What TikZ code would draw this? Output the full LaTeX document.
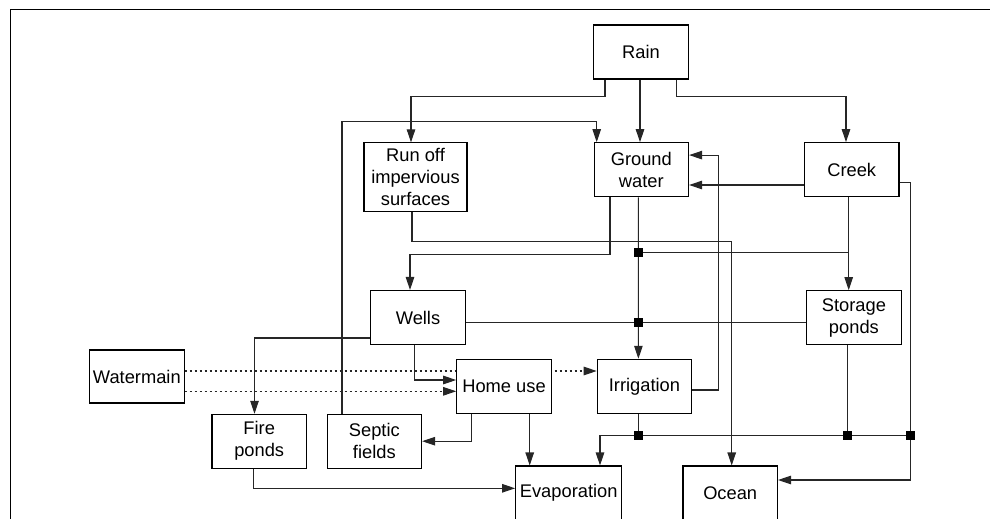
\documentclass[tikz,border=0pt]{standalone}
\usepackage{fontspec}
\setmainfont{Liberation Sans}
\usetikzlibrary{arrows.meta,backgrounds}
\begin{document}
\begin{tikzpicture}[x=1pt,y=-1pt,
  box/.style={draw=black,fill=white,line width=1.1pt,minimum width=94.5pt,minimum height=54pt,
    inner sep=0pt,align=center,font=\fontsize{18.3}{22}\selectfont},
  jn/.style={rectangle,fill=black,minimum size=8.5pt,inner sep=0pt},
  conn/.style={line width=1.1pt,draw=black!85},
  arr/.style={conn,-{Triangle[length=13pt,width=8.5pt]}},
  dotarr/.style={arr,dash pattern=on 2.5pt off 2.5pt}]
\useasboundingbox (0,0) rectangle (990,519);
\clip (0,0) rectangle (990,519);
% frame
\draw[line width=1.5pt] (10.5,519) -- (10.5,9.3) -- (990,9.3);
% boxes
\node[box] (rain) at (641,52) {Rain};
\node[box] (gw) at (641.3,169.7) {Ground\\water};
\node[box,minimum width=103pt,minimum height=69pt] (runoff) at (415.5,177.4) {Run off\\impervious\\surfaces};
\node[box] (creek) at (851.7,169.7) {Creek};
\node[box] (wells) at (418,317.5) {Wells};
\node[box] (storage) at (853.9,317.7) {Storage\\ponds};
\node[box,minimum height=53pt] (watermain) at (136.8,376.5) {Watermain};
\node[box] (homeuse) at (504,386.3) {Home use};
\node[box] (irrig) at (644.5,386.3) {Irrigation};
\node[box,minimum height=53.7pt] (fire) at (259.2,441.2) {Fire\\ponds};
\node[box,minimum height=53.7pt] (septic) at (374.3,441.2) {Septic\\fields};
\node[box,minimum width=106pt] (evap) at (568.7,493) {Evaporation};
\node[box] (ocean) at (730.2,493) {Ocean};
% junctions
\node[jn] (j1) at (638.4,252.7) {};
\node[jn] (j2) at (638.4,322.5) {};
\node[jn] (j3) at (638.4,435.7) {};
\node[jn] (j4) at (847.7,435.7) {};
\node[jn] (j5) at (910.3,435.7) {};
% helper coordinates
\coordinate (wmA) at ([yshift=5.5pt]watermain.east);
\coordinate (wmB) at ([yshift=-14.8pt]watermain.east);
\coordinate (hu2) at ([xshift=25.7pt]homeuse.south);
\coordinate (cb) at ([xshift=-3pt]creek.south |- j1);
\begin{scope}[on background layer]
\draw[arr] ([xshift=-36pt]rain.south) -- ++(0,16.7) -| ([xshift=-4.5pt]runoff.north);
\draw[arr] ([xshift=-1pt]rain.south) -- ([xshift=-1.3pt]gw.north);
\draw[arr] ([xshift=35.7pt]rain.south) -- ++(0,16.7) -| ([xshift=-5.7pt]creek.north);
\draw[arr] ([xshift=-32.3pt]septic.north) -- ++(0,-292.3) -| ([xshift=-44.6pt]gw.north);
\draw[arr] ([yshift=-3.7pt]irrig.east) -- ++(26.3,0) |- ([yshift=14.6pt]gw.east);
\draw[arr] ([yshift=-15.3pt]creek.west) -- ([yshift=-15.3pt]gw.east);
\draw[arr] ([xshift=-3.5pt]runoff.south) -- ++(0,28.8) -| ([xshift=1.5pt]ocean.north);
\draw[arr] ([xshift=-31.3pt]gw.south) -- ++(0,57.6) -| ([xshift=-8pt]wells.north);
\draw[arr] ([xshift=-2.9pt]gw.south) -- ([xshift=-6.1pt]irrig.north);
\draw[arr] ([xshift=-3pt]creek.south) -- ([xshift=-5.2pt]storage.north);
\draw[conn] (cb) -- (j1.center);
\draw[conn] (wells.east |- j2) -- (storage.west |- j2);
\draw[arr] ([yshift=-20.5pt]wells.west) -| ([xshift=-4.7pt]fire.north);
\draw[arr] ([xshift=-3.7pt]wells.south) |- ([yshift=6.3pt]homeuse.west);
\draw[dotarr] (wmA) -- (wmA -| irrig.west);
\draw[dotarr] (wmB) -- (wmB -| homeuse.west);
\draw[arr] ([xshift=-32.7pt]homeuse.south) |- (septic.east);
\draw[arr] (hu2) -- (hu2 |- evap.north);
\draw[arr] ([xshift=-5.9pt]fire.south) |- ([yshift=4.7pt]evap.west);
\draw[arr] (irrig.south -| j3) -- (j3.center) -| ([xshift=31.3pt]evap.north);
\draw[conn] (j3.center) -- (j4.center) -- (j5.center);
\draw[conn] (storage.south -| j4) -- (j4.center);
\draw[arr] ([yshift=-13pt]creek.east) -| (j5.center) |- ([yshift=13pt]ocean.east);
\end{scope}
\end{tikzpicture}
\end{document}
